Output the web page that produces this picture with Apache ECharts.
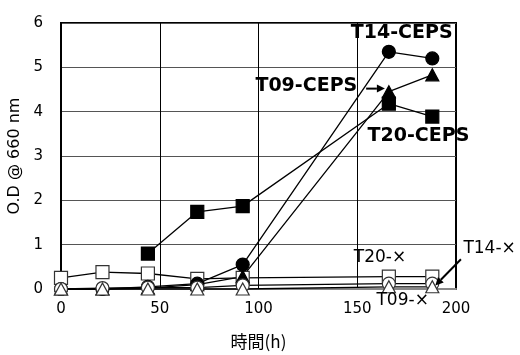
<!DOCTYPE html>
<html><head><meta charset="utf-8">
<script src="https://cdn.jsdelivr.net/npm/echarts@6/dist/echarts.min.js"></script>
<style>html,body{margin:0;padding:0;background:#fff}#c{width:520px;height:355px}</style>
</head><body><div id="c"></div>
<script>
const times = [0, 21, 44, 69, 92, 166, 188];
const t14ceps = [0.0, 0.0, 0.05, 0.12, 0.55, 5.35, 5.2];
const t09ceps = [0.0, 0.0, 0.02, 0.1, 0.28, 4.45, 4.83];
const t20ceps = [null, null, 0.8, 1.74, 1.87, 4.18, 3.89];
const t20x = [0.25, 0.38, 0.35, 0.23, 0.25, 0.28, 0.28];
const t14x = [0.0, 0.02, 0.03, 0.03, 0.08, 0.12, 0.12];
const t09x = [0.0, 0.0, 0.0, 0.0, 0.0, 0.05, 0.05];
const xTicks = [0, 50, 100, 150, 200];
const yTicks = [0, 1, 2, 3, 4, 5, 6];

const font = 'DejaVu Sans';
function pairs(v){ return times.map((t,i)=> v[i]==null ? null : [t, v[i]]).filter(p=>p); }
function ser(name, vals, symbol, filled, size){
  return {name, type:'line', data:pairs(vals), symbol, symbolSize:size, showSymbol:true,
    lineStyle:{color:'#000', width:1.3}, clip:false,
    itemStyle:{color: filled ? '#000' : '#fff', borderColor: filled ? '#000' : '#333', borderWidth:1.2}, animation:false};
}
const chart = echarts.init(document.getElementById('c'), null, {renderer:'canvas'});
chart.setOption({
  animation:false,
  grid:{left:61, top:23, width:395, height:266, show:true, borderColor:'#000', borderWidth:2, backgroundColor:'transparent', containLabel:false, outerBoundsMode:'none'},
  xAxis:{type:'value', min:xTicks[0], max:xTicks[xTicks.length-1], interval:50,
    name:'時間(h)', nameLocation:'middle', nameGap:44,
    nameTextStyle:{fontFamily:'Noto Sans CJK JP', fontSize:17, color:'#000'},
    axisLine:{show:true, lineStyle:{color:'#888', width:2}}, axisTick:{show:false},
    axisLabel:{fontFamily:font, fontSize:15, color:'#000', margin:13},
    splitLine:{show:true, lineStyle:{color:'#000', width:1}}},
  yAxis:{type:'value', min:yTicks[0], max:yTicks[yTicks.length-1], interval:1,
    name:'O.D @ 660 nm', nameLocation:'middle', nameGap:38,
    nameTextStyle:{fontFamily:font, fontSize:16, color:'#000'},
    axisLine:{show:true, lineStyle:{color:'#000', width:2}}, axisTick:{show:false},
    axisLabel:{fontFamily:font, fontSize:15, color:'#000', margin:18},
    splitLine:{show:true, lineStyle:{color:'#555', width:1}}},
  series:[
    ser('T20-×', t20x, 'rect', false, 13),
    ser('T20-CEPS', t20ceps, 'rect', true, 13),
    ser('T14-CEPS', t14ceps, 'circle', true, 13),
    ser('T09-CEPS', t09ceps, 'triangle', true, [13,12]),
    ser('T14-×', t14x, 'circle', false, 13),
    ser('T09-×', t09x, 'triangle', false, [13,12])
  ]
});
function P(x,y){ return chart.convertToPixel({gridIndex:0},[x,y]); }
function txt(x,y,s,bold,align){
  const p = P(x,y);
  return {type:'text', x:p[0], y:p[1], z:100, style:{text:s, fontFamily:font, fontSize: bold?19:17, fontWeight: bold?'bold':'normal', fill:'#000', align:align||'center', verticalAlign:'middle'}};
}
function arrow(x1,y1,x2,y2){
  const a=P(x1,y1), b=P(x2,y2);
  const ang=Math.atan2(b[1]-a[1], b[0]-a[0]);
  const L=8, W=4;
  const bx=b[0]-L*Math.cos(ang), by=b[1]-L*Math.sin(ang);
  return [
    {type:'line', z:100, shape:{x1:a[0],y1:a[1],x2:bx,y2:by}, style:{stroke:'#000', lineWidth:2}},
    {type:'polygon', z:100, shape:{points:[[b[0],b[1]],[bx+W*Math.sin(ang), by-W*Math.cos(ang)],[bx-W*Math.sin(ang), by+W*Math.cos(ang)]]}, style:{fill:'#000'}}
  ];
}
chart.setOption({graphic:[
  txt(172.5, 5.78, 'T14-CEPS', true),
  txt(150, 4.58, 'T09-CEPS', true, 'right'),
  txt(181, 3.44, 'T20-CEPS', true),
  txt(161.5, 0.72, 'T20-×', false),
  txt(217, 0.92, 'T14-×', false),
  txt(173, -0.26, 'T09-×', false)
].concat(arrow(154.5,4.52,164,4.52)).concat(arrow(202.5,0.67,189.5,0.08))});
</script></body></html>
